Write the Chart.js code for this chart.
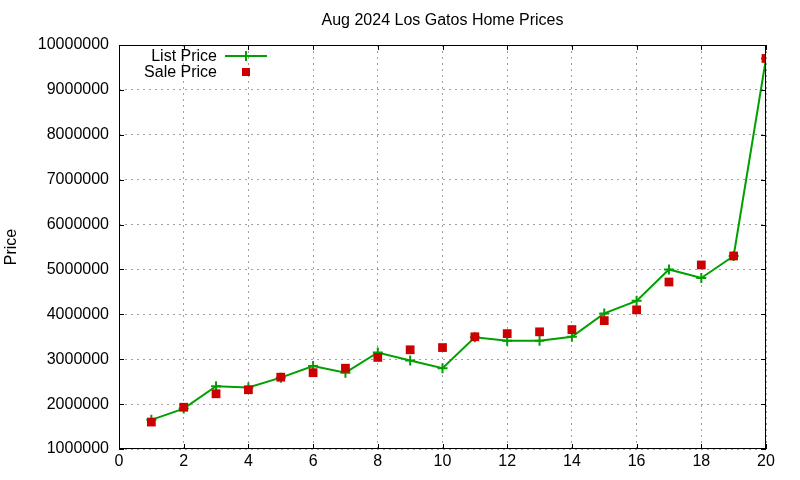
<!DOCTYPE html>
<html lang="en">
<head>
    <meta charset="UTF-8">
    <title>Aug 2024 Los Gatos Home Prices</title>
    <script src="https://cdn.jsdelivr.net/npm/chart.js"></script>
    <style>
        html, body { margin: 0; padding: 0; background: #fff; }
        #wrap { width: 800px; height: 480px; }
    </style>
</head>
<body>
<div id="wrap"><canvas id="myChart" width="800" height="480"></canvas></div>

<script>
    const homeIndex = [1, 2, 3, 4, 5, 6, 7, 8, 9, 10, 11, 12, 13, 14, 15, 16, 17, 18, 19, 20];
    const listPrice = [1650000, 1900000, 2400000, 2370000, 2590000, 2850000, 2700000, 3150000, 2970000, 2800000,
                       3490000, 3410000, 3410000, 3500000, 4020000, 4300000, 5000000, 4810000, 5300000, 9700000];
    const salePrice = [1600000, 1930000, 2230000, 2320000, 2600000, 2700000, 2800000, 3040000, 3210000, 3260000,
                       3500000, 3570000, 3610000, 3660000, 3860000, 4100000, 4720000, 5100000, 5300000, 9700000];
    const chartTitle = 'Aug 2024 Los Gatos Home Prices';

    const fontName = '"Liberation Sans", Arial, sans-serif';
    const green = '#00a000';
    const red = '#cc0000';

    // title over the plot, frame, inner tick marks and the in-plot key, gnuplot style
    const framePlugin = {
        id: 'frame',
        afterDraw(chart) {
            const ctx = chart.ctx;
            const a = chart.chartArea;
            const xs = chart.scales.x, ys = chart.scales.y;
            ctx.save();
            ctx.font = '16px ' + fontName;
            ctx.fillStyle = '#000';
            ctx.textAlign = 'center';
            ctx.textBaseline = 'middle';
            ctx.fillText(chartTitle, (a.left + a.right) / 2, 21);

            ctx.strokeStyle = '#000';
            ctx.lineWidth = 1;
            ctx.strokeRect(a.left + 0.5, a.top + 0.5, a.right - a.left - 1, a.bottom - a.top - 1);
            ctx.beginPath();
            for (let v = 0; v <= 20; v += 2) {
                const px = Math.round(xs.getPixelForValue(v)) + 0.5;
                ctx.moveTo(px, a.bottom); ctx.lineTo(px, a.bottom - 5);
                ctx.moveTo(px, a.top); ctx.lineTo(px, a.top + 5);
            }
            for (let v = 1000000; v <= 10000000; v += 1000000) {
                const py = Math.round(ys.getPixelForValue(v)) + 0.5;
                ctx.moveTo(a.left, py); ctx.lineTo(a.left + 5, py);
                ctx.moveTo(a.right, py); ctx.lineTo(a.right - 5, py);
            }
            ctx.stroke();

            // key
            ctx.textAlign = 'right';
            ctx.fillText('List Price', 217, 57);
            ctx.fillText('Sale Price', 217, 73);
            ctx.strokeStyle = green;
            ctx.lineWidth = 2;
            ctx.beginPath();
            ctx.moveTo(225, 56); ctx.lineTo(267, 56);
            ctx.moveTo(246, 51); ctx.lineTo(246, 61);
            ctx.stroke();
            ctx.fillStyle = red;
            ctx.fillRect(242, 68, 8, 8);
            ctx.restore();
        }
    };

    const ctx = document.getElementById('myChart').getContext('2d');
    new Chart(ctx, {
        type: 'line',
        data: {
            datasets: [{
                label: 'List Price',
                data: homeIndex.map((x, i) => ({ x: x, y: listPrice[i] })),
                borderColor: green,
                backgroundColor: green,
                borderWidth: 2,
                pointStyle: 'cross',
                pointRadius: 5,
                pointBorderWidth: 2,
                tension: 0,
                fill: false,
                order: 2
            }, {
                label: 'Sale Price',
                data: homeIndex.map((x, i) => ({ x: x, y: salePrice[i] })),
                showLine: false,
                borderColor: red,
                backgroundColor: red,
                pointStyle: 'rect',
                pointRadius: 6.2,
                pointBorderWidth: 0,
                order: 1
            }]
        },
        options: {
            responsive: false,
            animation: false,
            devicePixelRatio: 1,
            layout: { padding: { left: 0, right: 34, top: 45, bottom: 0 } },
            plugins: {
                legend: { display: false },
                tooltip: { enabled: false },
                title: { display: false }
            },
            scales: {
                x: {
                    type: 'linear',
                    min: 0,
                    max: 20,
                    ticks: {
                        stepSize: 2,
                        color: '#000',
                        padding: 3,
                        font: { family: fontName, size: 16 }
                    },
                    grid: { color: '#a0a0a0', drawTicks: false },
                    border: { display: false, dash: [2, 4] },
                    afterFit: s => { s.height = 31; }
                },
                y: {
                    min: 1000000,
                    max: 10000000,
                    ticks: {
                        stepSize: 1000000,
                        color: '#000',
                        padding: 10,
                        font: { family: fontName, size: 16 },
                        callback: v => String(v)
                    },
                    title: {
                        display: true,
                        text: 'Price',
                        color: '#000',
                        font: { family: fontName, size: 16 },
                        padding: { top: 2, bottom: 0 }
                    },
                    grid: { color: '#a0a0a0', drawTicks: false },
                    border: { display: false, dash: [2, 4] },
                    afterFit: s => { s.width = 119; }
                }
            }
        },
        plugins: [framePlugin]
    });
</script>
</body>
</html>
